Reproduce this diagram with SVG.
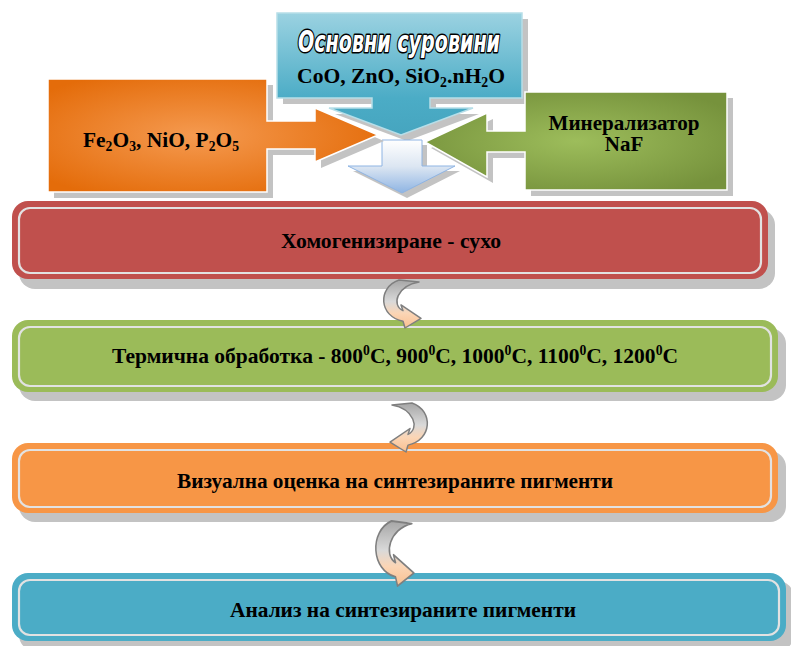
<svg xmlns="http://www.w3.org/2000/svg" width="791" height="646" viewBox="0 0 791 646">
<style>
.t{font-family:"Liberation Serif","Times New Roman",serif;font-weight:bold;font-size:22px;fill:#000}
.sub{font-size:14px}
.shadow{fill:#C3C3C3}
.inner{fill:none;stroke:#E2E2E2;stroke-width:2.2}
.curl{fill:url(#gCurl);stroke:#7F7F7F;stroke-width:1.5;stroke-linejoin:round}
.title{font-family:"Liberation Sans Narrow","DejaVu Sans Condensed","Liberation Sans",sans-serif;font-weight:bold;font-style:italic;font-size:31px;fill:#fff;stroke:#000;stroke-width:3;paint-order:stroke fill;stroke-linejoin:round}
</style>
<defs>
<linearGradient id="gTop" x1="0" y1="0" x2="0" y2="1">
<stop offset="0" stop-color="#9BD2E1"/>
<stop offset="0.7" stop-color="#4BACC6"/>
<stop offset="1" stop-color="#46A5BF"/>
</linearGradient>
<linearGradient id="gSmall" x1="0" y1="0" x2="0" y2="1">
<stop offset="0" stop-color="#FFFFFF"/>
<stop offset="0.5" stop-color="#DCE6F2"/>
<stop offset="1" stop-color="#8EB4E3"/>
</linearGradient>
<radialGradient id="gOr" cx="0.45" cy="0.5" r="0.6">
<stop offset="0" stop-color="#F59A50"/>
<stop offset="1" stop-color="#E46C0A"/>
</radialGradient>
<radialGradient id="gGr" cx="0.5" cy="0.5" r="0.6">
<stop offset="0" stop-color="#9DBD5B"/>
<stop offset="1" stop-color="#76923C"/>
</radialGradient>
<linearGradient id="gCurl" x1="0" y1="0" x2="0" y2="1">
<stop offset="0" stop-color="#A6A6A6"/>
<stop offset="0.45" stop-color="#D9D9D9"/>
<stop offset="0.7" stop-color="#FBD5B5"/>
<stop offset="1" stop-color="#FAC090"/>
</linearGradient>
<path id="curl" d="M22,0 L42,2 C20,6 14,26 26,32 L24,26 L44,40 L28,50 L26,43 C2,38 0,8 22,0 Z"/>
</defs>

<!-- top input arrows -->
<g id="raw-main">
<polygon class="shadow" transform="translate(6,6)" points="277,13 522,13 522,98 430,98 430,108 473,108 401,135 329,108 372,108 372,98 277,98"/>
<polygon fill="url(#gTop)" stroke="#B7DEE8" stroke-width="1.5" points="277,13 522,13 522,98 430,98 430,108 473,108 401,135 329,108 372,108 372,98 277,98"/>
<text class="title" x="399" y="52" text-anchor="middle" textLength="202" lengthAdjust="spacingAndGlyphs">Основни суровини</text>
<text class="t" x="401" y="83" text-anchor="middle" textLength="208" lengthAdjust="spacingAndGlyphs">CoO, ZnO, SiO<tspan class="sub" dy="4">2</tspan><tspan dy="-4">.nH</tspan><tspan class="sub" dy="4">2</tspan><tspan dy="-4">O</tspan></text>
</g>

<g id="merge-arrow">
<polygon class="shadow" transform="translate(5,5)" points="382,140 422,140 422,166 455,166 402,193 348,166 382,166"/>
<polygon fill="url(#gSmall)" stroke="#8EB4E3" stroke-width="1" points="382,140 422,140 422,166 455,166 402,193 348,166 382,166"/>
</g>

<g id="additives">
<polygon class="shadow" transform="translate(6,6)" points="48,79 267,79 267,121 315,121 315,108 378,135 315,162 315,149 267,149 267,192 48,192"/>
<polygon fill="url(#gOr)" stroke="#fff" stroke-width="1.5" points="48,79 267,79 267,121 315,121 315,108 378,135 315,162 315,149 267,149 267,192 48,192"/>
<text class="t" x="83" y="147" textLength="156" lengthAdjust="spacingAndGlyphs">Fe<tspan class="sub" dy="4">2</tspan><tspan dy="-4">O</tspan><tspan class="sub" dy="4">3</tspan><tspan dy="-4">, NiO, P</tspan><tspan class="sub" dy="4">2</tspan><tspan dy="-4">O</tspan><tspan class="sub" dy="4">5</tspan></text>
</g>

<g id="mineralizer">
<polygon class="shadow" transform="translate(6,6)" points="727,92 727,190 525,190 525,152 487,152 487,177 425,142 487,113 487,131 525,131 525,92"/>
<polygon fill="url(#gGr)" stroke="#fff" stroke-width="1.5" points="727,92 727,190 525,190 525,152 487,152 487,177 425,142 487,113 487,131 525,131 525,92"/>
<text class="t" x="624" y="130" text-anchor="middle" font-size="21" textLength="151" lengthAdjust="spacingAndGlyphs" style="font-size:21px">Минерализатор</text>
<text class="t" x="624" y="151" text-anchor="middle" style="font-size:21px">NaF</text>
</g>

<!-- process steps -->
<g id="step1">
<rect class="shadow" x="19" y="209" width="756" height="80" rx="16"/>
<rect x="12" y="201" width="756" height="78" rx="16" fill="#C0504D"/>
<rect class="inner" x="19" y="208" width="742" height="65" rx="11"/>
<text class="t" x="391" y="248" text-anchor="middle" textLength="220" lengthAdjust="spacingAndGlyphs">Хомогенизиране - сухо</text>
</g>

<g id="step2">
<rect class="shadow" x="19" y="328" width="767" height="73" rx="16"/>
<rect x="12" y="320" width="766" height="72" rx="16" fill="#9BBB59"/>
<rect class="inner" x="19" y="327" width="752" height="59" rx="11"/>
<text class="t" x="395" y="363" text-anchor="middle" textLength="566" lengthAdjust="spacingAndGlyphs">Термична обработка - 800<tspan class="sub" dy="-8">0</tspan><tspan dy="8">C, 900</tspan><tspan class="sub" dy="-8">0</tspan><tspan dy="8">C, 1000</tspan><tspan class="sub" dy="-8">0</tspan><tspan dy="8">C, 1100</tspan><tspan class="sub" dy="-8">0</tspan><tspan dy="8">C, 1200</tspan><tspan class="sub" dy="-8">0</tspan><tspan dy="8">C</tspan></text>
</g>

<g id="step3">
<rect class="shadow" x="19" y="451" width="767" height="71" rx="16"/>
<rect x="12" y="443" width="766" height="70" rx="16" fill="#F79646"/>
<rect class="inner" x="19" y="450" width="752" height="57" rx="11"/>
<text class="t" x="395" y="488" text-anchor="middle" textLength="436" lengthAdjust="spacingAndGlyphs">Визуална оценка на синтезираните пигменти</text>
</g>

<g id="step4">
<rect class="shadow" x="19" y="581" width="775" height="70" rx="16"/>
<rect x="12" y="573" width="774" height="68" rx="16" fill="#4BACC6"/>
<rect class="inner" x="19" y="580" width="760" height="55" rx="11"/>
<text class="t" x="403" y="617" text-anchor="middle" textLength="346" lengthAdjust="spacingAndGlyphs">Анализ на синтезираните пигменти</text>
</g>

<!-- connectors -->
<g id="connectors">
<use href="#curl" class="curl" transform="translate(377,280) scale(1,0.96)"/>
<use href="#curl" class="curl" transform="translate(434,403) scale(-1,0.98)"/>
<use href="#curl" class="curl" transform="translate(369,521) scale(1.02,1.3)"/>
</g>
</svg>
